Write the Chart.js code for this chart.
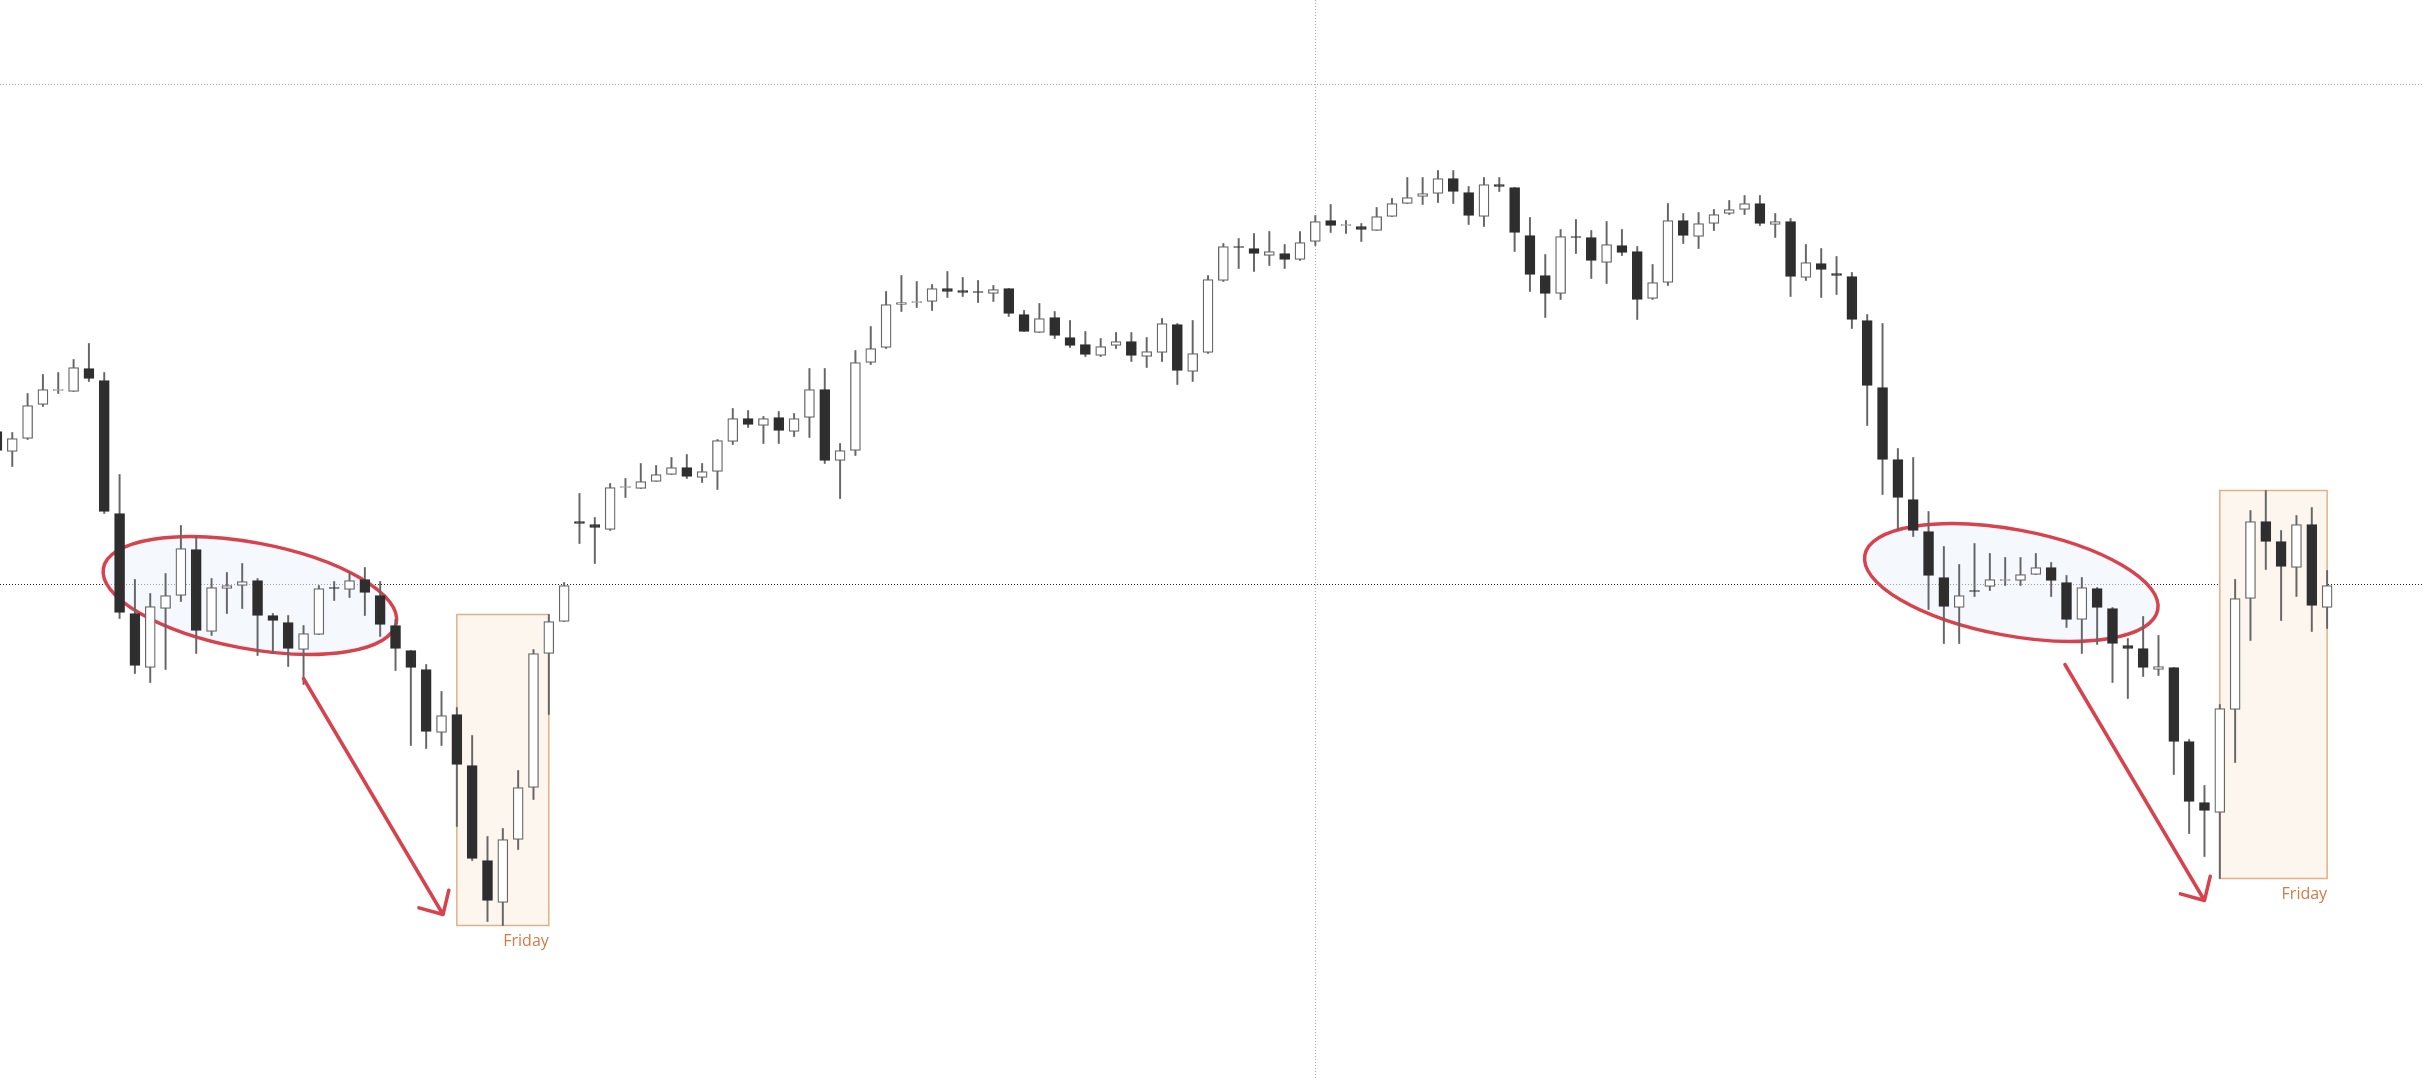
<!DOCTYPE html>
<html>
<head>
<meta charset="utf-8">
<title>Candles - Friday</title>
<script src="https://cdn.jsdelivr.net/npm/chart.js@4/dist/chart.umd.min.js"></script>
<style>
  html, body { margin: 0; padding: 0; background: #ffffff; }
  #wrap { width: 2424px; height: 1080px; position: relative; }
</style>
</head>
<body>
<div id="wrap"><canvas id="velas"></canvas></div>
<script>
// Precios (una vela por sesion, la primera sale cortada)
const opens = [
  653, 633, 646, 680, 694, 693, 716, 704, 571, 471, 417, 476, 489, 535, 453, 496,
  499, 504, 469, 462, 435, 450, 497, 495, 505, 489, 459, 434, 415, 352, 370, 319,
  224, 182, 245, 297, 431, 463, 563, 560, 555, 597, 596, 603, 610, 617, 607, 613,
  643, 666, 659, 667, 653, 667, 695, 624, 634, 722, 737, 780, 782, 783, 796, 794,
  793, 791, 796, 770, 752, 767, 747, 740, 729, 739, 743, 728, 732, 760, 713, 732,
  804, 838, 836, 829, 831, 825, 843, 864, 859, 858, 854, 868, 881, 888, 891, 906,
  892, 868, 900, 897, 849, 809, 791, 848, 847, 822, 839, 833, 786, 802, 864, 848,
  861, 871, 875, 881, 860, 863, 807, 821, 811, 808, 764, 697, 625, 585, 553, 507,
  477, 494, 498, 504, 504, 510, 517, 502, 465, 496, 476, 439, 436, 415, 417, 343,
  282, 272, 375, 486, 563, 543, 517, 560, 477
];
const highs = [
  658, 652, 691, 710, 712, 725, 741, 712, 610, 505, 491, 511, 559, 548, 506, 512,
  521, 506, 471, 469, 459, 499, 503, 512, 517, 503, 465, 434, 420, 393, 377, 349,
  248, 256, 314, 435, 470, 502, 591, 567, 601, 606, 621, 619, 627, 630, 621, 645,
  676, 674, 668, 673, 671, 716, 716, 641, 734, 758, 793, 809, 803, 800, 813, 807,
  804, 799, 796, 774, 781, 773, 764, 753, 746, 752, 752, 747, 766, 761, 764, 809,
  841, 846, 851, 853, 840, 853, 869, 880, 864, 861, 877, 886, 907, 907, 914, 914,
  898, 907, 907, 897, 867, 830, 855, 865, 854, 863, 855, 838, 820, 881, 871, 872,
  875, 884, 889, 889, 871, 866, 840, 836, 828, 812, 770, 761, 636, 627, 573, 538,
  520, 541, 531, 527, 527, 531, 522, 509, 507, 497, 477, 446, 468, 449, 417, 345,
  299, 380, 505, 574, 594, 554, 569, 577, 514
];
const lows = [
  630, 618, 645, 678, 691, 693, 703, 571, 466, 411, 402, 415, 483, 431, 449, 471,
  476, 429, 431, 418, 400, 450, 484, 487, 469, 448, 414, 339, 336, 339, 258, 224,
  163, 159, 235, 285, 370, 463, 541, 521, 554, 587, 596, 603, 610, 606, 602, 595,
  640, 657, 641, 641, 648, 647, 621, 586, 629, 720, 736, 773, 777, 774, 787, 788,
  782, 783, 768, 753, 752, 746, 737, 728, 728, 736, 723, 717, 723, 700, 703, 731,
  803, 816, 813, 819, 816, 824, 839, 852, 851, 843, 854, 868, 881, 880, 882, 881,
  860, 858, 893, 833, 793, 767, 785, 831, 806, 801, 829, 765, 785, 799, 841, 836,
  854, 870, 870, 859, 847, 788, 804, 787, 790, 756, 659, 590, 555, 548, 475, 441,
  441, 488, 494, 499, 499, 510, 488, 457, 431, 440, 402, 386, 408, 409, 310, 251,
  228, 206, 322, 444, 515, 464, 488, 453, 456
];
const closes = [
  634, 646, 679, 695, 695, 717, 706, 573, 472, 419, 478, 489, 536, 454, 497, 499,
  503, 469, 464, 436, 451, 496, 496, 504, 492, 460, 436, 417, 353, 369, 320, 226,
  184, 245, 297, 431, 463, 499, 561, 557, 597, 598, 603, 610, 617, 608, 613, 644,
  666, 660, 666, 654, 666, 695, 624, 634, 722, 736, 780, 782, 783, 796, 793, 792,
  792, 795, 771, 753, 766, 749, 739, 730, 738, 743, 729, 733, 761, 714, 731, 805,
  838, 837, 831, 833, 825, 842, 863, 859, 860, 855, 868, 881, 887, 891, 906, 893,
  869, 900, 898, 852, 810, 791, 848, 847, 824, 840, 832, 785, 802, 864, 849, 861,
  870, 875, 881, 861, 863, 808, 822, 815, 809, 765, 699, 625, 587, 554, 509, 478,
  489, 493, 505, 505, 510, 517, 504, 465, 497, 477, 441, 436, 417, 418, 343, 283,
  274, 376, 486, 563, 543, 518, 560, 479, 499
];

// Rejilla: lineas de precio y la sesion marcada
const priceLines = [500, 1000];
const sessionLines = [86];

// Sesiones de viernes resaltadas (primera y ultima vela del recuadro)
const fridays = [[30, 36], [145, 152]];
const fridayLabel = "Friday";

// Zonas de consolidacion (centro en sesion/precio) y flechas de caida
const zonas = [
  { x: 16.5, y: 489 },
  { x: 131.4, y: 502 }
];
const flechas = [
  { from: [20, 406], to: [29.1, 170] },
  { from: [134.9, 420], to: [144, 184] }
];

// Colores
const COLOR_BAJISTA = "#2e2e2e";
const COLOR_ALCISTA = "#ffffff";
const COLOR_BORDE = "#666666";
const COLOR_ROJO = "#d8424c";
const COLOR_NARANJA = "#d47a46";

// Datos para las barras flotantes
function cuerpos() {
  return opens.map((o, i) => ({ x: i, y: [o, closes[i]] }));
}

function mechas() {
  return lows.map((l, i) => ({ x: i, y: [l, highs[i]] }));
}

function esBajista(i) {
  return closes[i] < opens[i];
}

// Plugin para recuadros, elipses, flechas y etiquetas
const anotaciones = {
  id: "anotaciones",
  beforeDatasetsDraw(chart) {
    const { ctx, scales } = chart;
    const xs = scales.x;
    const ys = scales.y;

    // Recuadros de los viernes
    fridays.forEach(([a, b]) => {
      const hi = Math.max(...highs.slice(a, b + 1));
      const lo = Math.min(...lows.slice(a, b + 1));
      const x0 = xs.getPixelForValue(a);
      const x1 = xs.getPixelForValue(b);
      const y0 = ys.getPixelForValue(hi);
      const y1 = ys.getPixelForValue(lo);
      ctx.save();
      ctx.fillStyle = "#fcf6ef";
      ctx.fillRect(x0, y0, x1 - x0, y1 - y0);
      ctx.strokeStyle = "#e2b088";
      ctx.lineWidth = 1.5;
      ctx.strokeRect(x0, y0, x1 - x0, y1 - y0);
      ctx.restore();
    });

    // Elipses de consolidacion
    zonas.forEach((z) => {
      const cx = xs.getPixelForValue(z.x);
      const cy = ys.getPixelForValue(z.y);
      ctx.save();
      ctx.beginPath();
      ctx.ellipse(cx, cy, 149, 53, (10.6 * Math.PI) / 180, 0, Math.PI * 2);
      ctx.fillStyle = "rgba(238, 243, 252, 0.6)";
      ctx.fill();
      ctx.strokeStyle = COLOR_ROJO;
      ctx.lineWidth = 3.5;
      ctx.stroke();
      ctx.restore();
    });
  },
  afterDatasetsDraw(chart) {
    const { ctx, scales } = chart;
    const xs = scales.x;
    const ys = scales.y;

    // Flechas
    flechas.forEach((f) => {
      const x0 = xs.getPixelForValue(f.from[0]);
      const y0 = ys.getPixelForValue(f.from[1]);
      const x1 = xs.getPixelForValue(f.to[0]);
      const y1 = ys.getPixelForValue(f.to[1]);
      const ang = Math.atan2(y1 - y0, x1 - x0);
      const largo = 25;
      const abertura = (44 * Math.PI) / 180;
      ctx.save();
      ctx.strokeStyle = COLOR_ROJO;
      ctx.lineWidth = 3.5;
      ctx.lineCap = "round";
      ctx.lineJoin = "round";
      ctx.beginPath();
      ctx.moveTo(x0, y0);
      ctx.lineTo(x1, y1);
      ctx.moveTo(x1 - largo * Math.cos(ang - abertura), y1 - largo * Math.sin(ang - abertura));
      ctx.lineTo(x1, y1);
      ctx.lineTo(x1 - largo * Math.cos(ang + abertura), y1 - largo * Math.sin(ang + abertura));
      ctx.stroke();
      ctx.restore();
    });

    // Etiqueta bajo cada recuadro
    fridays.forEach(([a, b]) => {
      const lo = Math.min(...lows.slice(a, b + 1));
      const x1 = xs.getPixelForValue(b);
      const y1 = ys.getPixelForValue(lo);
      ctx.save();
      ctx.font = '16px "Open Sans", sans-serif';
      ctx.fillStyle = COLOR_NARANJA;
      ctx.textAlign = "right";
      ctx.textBaseline = "alphabetic";
      ctx.fillText(fridayLabel, x1, y1 + 20);
      ctx.restore();
    });
  }
};

const ctx = document.getElementById("velas");

new Chart(ctx, {
  type: "bar",
  data: {
    datasets: [
      {
        label: "cuerpo",
        data: cuerpos(),
        grouped: false,
        barThickness: 10,
        borderWidth: 1.3,
        borderSkipped: false,
        backgroundColor: (c) => (esBajista(c.dataIndex) ? COLOR_BAJISTA : COLOR_ALCISTA),
        borderColor: (c) => (esBajista(c.dataIndex) ? COLOR_BAJISTA : COLOR_BORDE)
      },
      {
        label: "mecha",
        data: mechas(),
        grouped: false,
        barThickness: 1.3,
        borderWidth: 0,
        backgroundColor: COLOR_BORDE
      }
    ]
  },
  options: {
    responsive: true,
    maintainAspectRatio: false,
    animation: false,
    devicePixelRatio: 1,
    layout: { padding: 0 },
    plugins: {
      legend: { display: false },
      tooltip: { enabled: false }
    },
    scales: {
      x: {
        type: "linear",
        min: 0.2,
        max: 158.32,
        offset: false,
        ticks: { display: false },
        grid: { color: "#a8a8a8", drawTicks: false, lineWidth: 1, offset: false },
        border: { display: false, dash: [1, 2] },
        afterBuildTicks: (scale) => {
          scale.ticks = sessionLines.map((v) => ({ value: v }));
        },
        afterFit: (scale) => {
          scale.height = 0;
        }
      },
      y: {
        type: "linear",
        min: 4.5,
        max: 1084.5,
        ticks: { display: false },
        grid: {
          drawTicks: false,
          lineWidth: 1,
          offset: false,
          color: (c) => (c.tick && c.tick.value === 500 ? "#222222" : "#a8a8a8")
        },
        border: { display: false, dash: [1, 2] },
        afterBuildTicks: (scale) => {
          scale.ticks = priceLines.map((v) => ({ value: v }));
        },
        afterFit: (scale) => {
          scale.width = 0;
        }
      }
    }
  },
  plugins: [anotaciones]
});
</script>
</body>
</html>
